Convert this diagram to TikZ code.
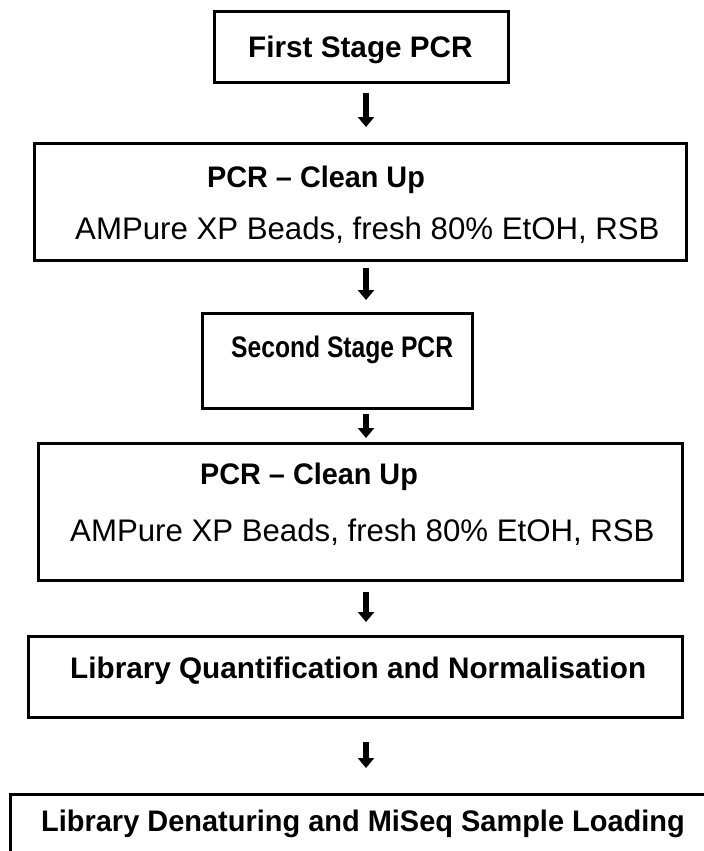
\documentclass[tikz,border=0pt]{standalone}
\usepackage{fontspec}
\setmainfont{Liberation Sans}
\usetikzlibrary{arrows.meta}
\begin{document}
\begin{tikzpicture}[x=1bp,y=-1bp,
  boxst/.style={draw=black,line width=3bp,inner sep=0pt,outer sep=0pt},
  bt/.style={font=\fontsize{29.7bp}{36bp}\selectfont\bfseries,inner sep=0pt,anchor=base west},
  rt/.style={font=\fontsize{31.2bp}{36bp}\selectfont,inner sep=0pt,anchor=base west},
  arr/.style={line width=5.5bp,-{Triangle[width=16bp,length=10bp]}}]
\useasboundingbox (0,0) rectangle (704,851);
% boxes
\node[boxst,minimum width=294bp,minimum height=70bp] (b1) at (361,47) {};
\node[boxst,minimum width=651bp,minimum height=117bp] (b2) at (360.5,201.5) {};
\node[boxst,minimum width=270bp,minimum height=95bp] (b3) at (337,360.5) {};
\node[boxst,minimum width=643bp,minimum height=137bp] (b4) at (360.5,511.5) {};
\node[boxst,minimum width=653bp,minimum height=81bp] (b5) at (355.5,676.5) {};
\node[boxst,minimum width=720bp,minimum height=120bp] (b6) at (371,854) {};
% texts
\node[bt] (t1) at (248,57.7) {First Stage PCR};
\node[bt,xscale=0.97] (t2a) at (207,187) {PCR -- Clean Up};
\node[rt] (t2b) at (75,239) {AMPure XP Beads, fresh 80\% EtOH, RSB};
\node[bt,xscale=0.83] (t3) at (231,357) {Second Stage PCR};
\node[bt,xscale=0.97] (t4a) at (200,484) {PCR -- Clean Up};
\node[rt] (t4b) at (70,541) {AMPure XP Beads, fresh 80\% EtOH, RSB};
\node[bt] (t5) at (70,678) {Library Quantification and Normalisation};
\node[bt,xscale=0.975] (t6) at (41,831) {Library Denaturing and MiSeq Sample Loading};
% arrows
\coordinate (ax) at (366,0);
\draw[arr,shorten <=11bp,shorten >=16bp] (b1.south -| ax) -- (b2.north -| ax);
\draw[arr,shorten <=8bp,shorten >=13bp] (b2.south -| ax) -- (b3.north -| ax);
\draw[arr,shorten <=6bp,shorten >=5bp] (b3.south -| ax) -- (b4.north -| ax);
\draw[arr,shorten <=12bp,shorten >=14bp] (b4.south -| ax) -- (b5.north -| ax);
\draw[arr,shorten <=25bp,shorten >=26bp] (b5.south -| ax) -- (b6.north -| ax);
\end{tikzpicture}
\end{document}
